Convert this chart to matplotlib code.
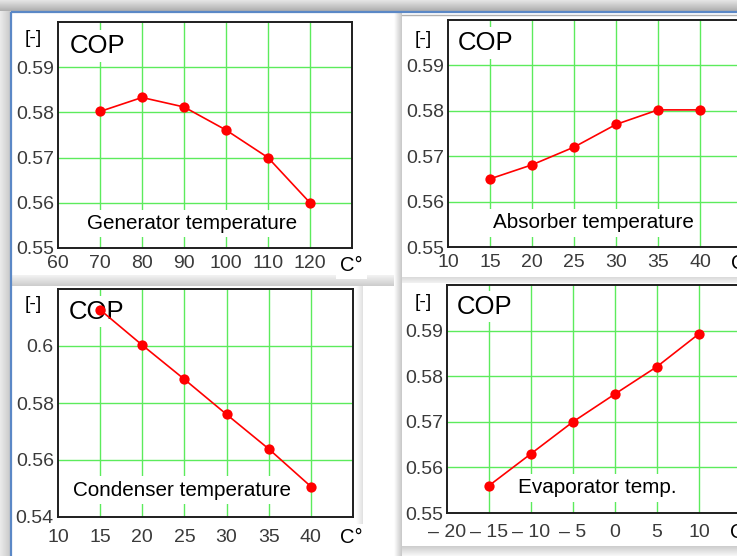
import numpy as np
import matplotlib
matplotlib.use("Agg")
import matplotlib.pyplot as plt

plt.rcParams['font.family'] = ['Liberation Sans', 'DejaVu Sans']

# ---------------- data ----------------
gen_temp = [70, 80, 90, 100, 110, 120]
gen_cop = [0.5802, 0.5833, 0.5812, 0.5761, 0.5700, 0.5600]

abs_temp = [15, 20, 25, 30, 35, 40]
abs_cop = [0.5650, 0.5681, 0.5720, 0.5770, 0.5802, 0.5802]

con_temp = [15, 20, 25, 30, 35, 40]
con_cop = [0.6127, 0.6003, 0.5883, 0.5760, 0.5639, 0.5507]

eva_temp = [-15, -10, -5, 0, 5, 10]
eva_cop = [0.5560, 0.5630, 0.5700, 0.5761, 0.5821, 0.5893]

gen_xticks = [60, 70, 80, 90, 100, 110, 120]
abs_xticks = [10, 15, 20, 25, 30, 35, 40]
con_xticks = [10, 15, 20, 25, 30, 35, 40]
eva_xticks = [-20, -15, -10, -5, 0, 5, 10]
eva_xticklabels = ['\u2013 20', '\u2013 15', '\u2013 10', '\u2013 5', '0', '5', '10']

std_yticks = [0.55, 0.56, 0.57, 0.58, 0.59]
std_yticklabels = ['0.55', '0.56', '0.57', '0.58', '0.59']
con_yticks = [0.54, 0.56, 0.58, 0.60]
con_yticklabels = ['0.54', '0.56', '0.58', '0.6']

W, H = 737, 556
fig = plt.figure(figsize=(W / 100, H / 100), dpi=100)
fig.patch.set_facecolor('white')

# ---------------- background (screenshot frame) ----------------
bg = fig.add_axes([0, 0, 1, 1], zorder=-10)
bg.set_xlim(0, W)
bg.set_ylim(H, 0)
bg.axis('off')

def vgrad(x0, x1, y0, y1, c0, c1):
    g = np.linspace(c0, c1, 32).reshape(-1, 1)
    bg.imshow(g, cmap='gray', vmin=0, vmax=1, extent=(x0, x1, y1, y0),
              aspect='auto', interpolation='bilinear')

def hgrad(x0, x1, y0, y1, c0, c1):
    g = np.linspace(c0, c1, 32).reshape(1, -1)
    bg.imshow(g, cmap='gray', vmin=0, vmax=1, extent=(x0, x1, y1, y0),
              aspect='auto', interpolation='bilinear')

vgrad(0, W, 0, 11, 0.90, 0.68)          # top shadow
hgrad(0, 10.5, 11, H, 0.92, 0.78)       # left shadow
hgrad(394, 402, 13, H, 1.0, 0.78)       # shadow between columns
vgrad(12, 394, 275, 286, 0.95, 0.80)    # shadow between rows (left)
vgrad(402, W, 277, 283, 0.85, 0.95)     # shadow between rows (right)
vgrad(402, W, 546, H, 0.80, 0.97)       # bottom shadow right
hgrad(356, 363, 286, 527, 1.0, 0.88)    # faint shadow right of panel 3
bg.plot([11, W], [12, 12], color='#5b88c6', lw=1.6, solid_capstyle='butt')
bg.plot([11, 11], [12, H], color='#5b88c6', lw=1.6, solid_capstyle='butt')
bg.plot([402, W], [15, 15], color='#b0b0b0', lw=1.0)

GRID = '#5ceb5c'
TICKC = '#3a3a3a'

def make_axes(box, xlim, ylim, xgrid, ygrid, xticks, xlabels, yticks, ylabels,
              temp, cop, label, label_pos, cop_pos, unit_pos, cunit_pos, xpad):
    l, t, r, b = box
    ax = fig.add_axes([l / W, (H - b) / H, (r - l) / W, (b - t) / H])
    ax.set_facecolor('white')
    ax.set_xlim(*xlim)
    ax.set_ylim(*ylim)
    for v in xgrid:
        ax.axvline(v, color=GRID, lw=1.0, zorder=1)
    for v in ygrid:
        ax.axhline(v, color=GRID, lw=1.0, zorder=1)
    ax.set_xticks(xticks)
    ax.set_xticklabels(xlabels)
    ax.set_yticks(yticks)
    ax.set_yticklabels(ylabels)
    ax.tick_params(length=0, labelsize=14, labelcolor=TICKC)
    ax.tick_params(axis='x', pad=xpad)
    ax.tick_params(axis='y', pad=3.0)
    for s in ax.spines.values():
        s.set_color('#1e1e1e')
        s.set_linewidth(1.4)
        s.set_zorder(5)
    ax.plot(temp, cop, color='#ff0000', lw=1.2, zorder=2)
    ax.plot(temp, cop, 'o', color='#ff0000', ms=7.4, mew=0, zorder=4)
    ax.text(cop_pos[0], cop_pos[1], 'COP', transform=ax.transAxes,
            fontsize=18.5, ha='left', va='center', color='black', zorder=1.5,
            bbox=dict(facecolor='white', edgecolor='none', pad=2.5))
    ax.text(label_pos[0], label_pos[1], label, transform=ax.transAxes,
            fontsize=14.9, ha='left', va='center', color='black', zorder=3,
            bbox=dict(facecolor='white', edgecolor='none', pad=3.0))
    ax.text(unit_pos[0], unit_pos[1], '[-]', transform=ax.transAxes,
            fontsize=14, ha='center', va='center', color='black',
            clip_on=False)
    ax.text(cunit_pos[0], cunit_pos[1], 'C\u00b0', transform=ax.transAxes,
            fontsize=14.5, ha='center', va='center', color='black',
            clip_on=False, zorder=6,
            bbox=dict(facecolor='white', edgecolor='none', pad=3))
    return ax

# panel 1: generator
make_axes((58, 22, 352, 248), (60, 130), (0.55, 0.60),
          [70, 80, 90, 100, 110, 120], [0.56, 0.57, 0.58, 0.59],
          gen_xticks, [str(v) for v in gen_xticks], std_yticks, std_yticklabels,
          gen_temp, gen_cop, 'Generator temperature', (0.10, 0.11),
          (0.04, 0.894), (-0.085, 0.929), (0.997, -0.078), 5.0)

# panel 2: absorber
make_axes((448, 20, 742, 247), (10, 45), (0.55, 0.60),
          [15, 20, 25, 30, 35, 40], [0.56, 0.57, 0.58, 0.59],
          abs_xticks, [str(v) for v in abs_xticks], std_yticks, std_yticklabels,
          abs_temp, abs_cop, 'Absorber temperature', (0.152, 0.106),
          (0.033, 0.899), (-0.085, 0.916), (1.0, -0.073), 5.0)

# panel 3: condenser
make_axes((58, 289, 353, 517), (10, 45), (0.54, 0.62),
          [15, 20, 25, 30, 35, 40], [0.56, 0.58, 0.60],
          con_xticks, [str(v) for v in con_xticks], con_yticks, con_yticklabels,
          con_temp, con_cop, 'Condenser temperature', (0.05, 0.118),
          (0.036, 0.90), (-0.085, 0.93), (0.993, -0.09), 8.5)

# panel 4: evaporator
make_axes((447, 285, 741, 513), (-20, 15), (0.55, 0.60),
          [-15, -10, -5, 0, 5, 10], [0.56, 0.57, 0.58, 0.59],
          eva_xticks, eva_xticklabels, std_yticks, std_yticklabels,
          eva_temp, eva_cop, 'Evaporator temp.', (0.24, 0.11),
          (0.033, 0.904), (-0.082, 0.925), (1.0, -0.085), 8.0)

fig.savefig('out.png', dpi=100, facecolor='white')
